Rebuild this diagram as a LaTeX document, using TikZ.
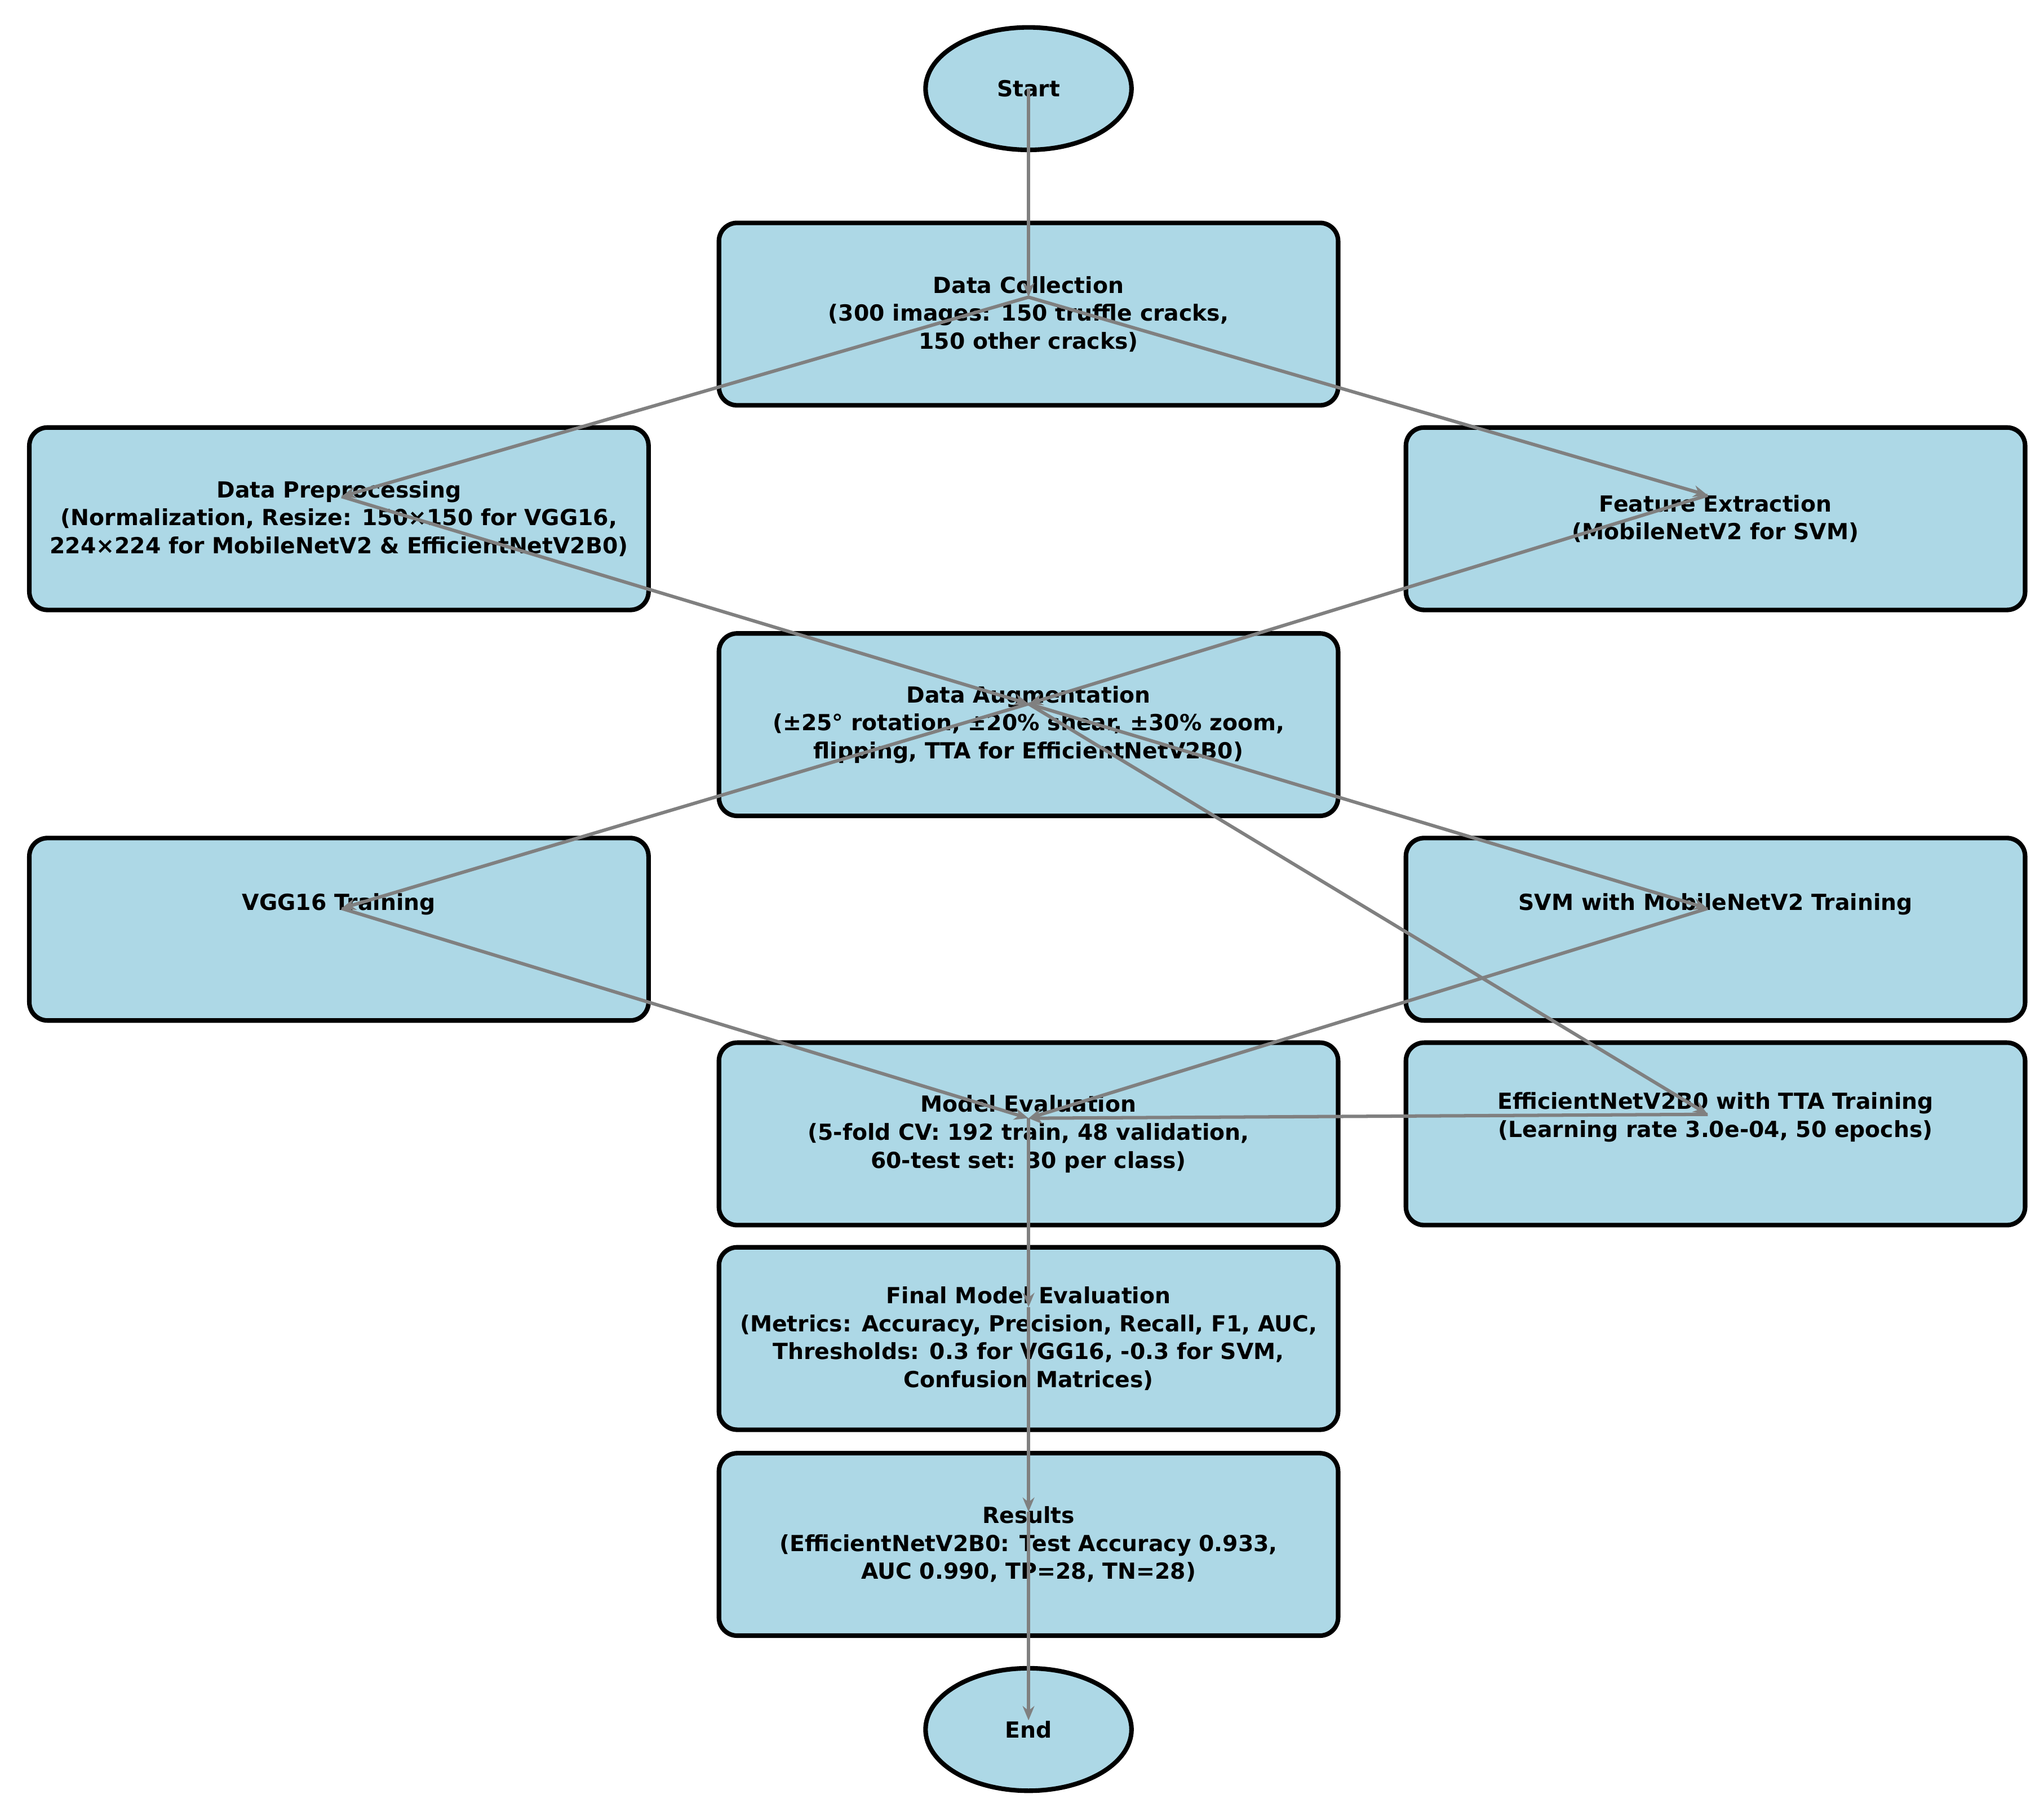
\documentclass[tikz,border=0pt]{standalone}
\usepackage{fontspec}
\setmainfont{DejaVu Sans}
\usetikzlibrary{shapes.geometric,arrows.meta}
\definecolor{boxfill}{RGB}{173,216,230}
\definecolor{arr}{RGB}{128,128,128}
\begin{document}
\begin{tikzpicture}[x=1pt,y=-1pt,
  every node/.style={font=\bfseries\fontsize{17}{21.5}\selectfont,align=center,text=black},
  box/.style={draw=black,line width=3.5pt,fill=boxfill,rounded corners=14pt,minimum width=475pt,minimum height=140pt,inner sep=0pt},
  oval/.style={ellipse,draw=black,line width=3.5pt,fill=boxfill,minimum width=158pt,minimum height=94pt},
  conn/.style={draw=arr,line width=2.6pt,-{Stealth[length=11pt,width=9pt]}}]
\useasboundingbox (0,0) rectangle (1568,1390);
\node[oval] (start) at (789,68) {Start};
\node[box] (dc) at (789,241) {Data Collection\\(300 images: 150 truffle cracks,\\150 other cracks)};
\node[box] (pp) at (260,398) {Data Preprocessing\\(Normalization, Resize: 150×150 for VGG16,\\224×224 for MobileNetV2 \& EfficientNetV2B0)};
\node[box] (fe) at (1316,398) {Feature Extraction\\(MobileNetV2 for SVM)};
\node[box] (da) at (789,556) {Data Augmentation\\(±25° rotation, ±20\% shear, ±30\% zoom,\\flipping, TTA for EfficientNetV2B0)};
\node[box] (vg) at (260,713) {VGG16 Training\\[21pt]~};
\node[box] (sv) at (1316,713) {SVM with MobileNetV2 Training\\[21pt]~};
\node[box] (me) at (789,870) {Model Evaluation\\(5-fold CV: 192 train, 48 validation,\\60-test set: 30 per class)};
\node[box] (ef) at (1316,870) {EfficientNetV2B0 with TTA Training\\(Learning rate 3.0e-04, 50 epochs)\\[8pt]~};
\node[box] (fm) at (789,1027) {Final Model Evaluation\\(Metrics: Accuracy, Precision, Recall, F1, AUC,\\Thresholds: 0.3 for VGG16, -0.3 for SVM,\\Confusion Matrices)};
\node[box] (rs) at (789,1185) {Results\\(EfficientNetV2B0: Test Accuracy 0.933,\\AUC 0.990, TP=28, TN=28)};
\node[oval] (end) at (789,1327) {End};
\coordinate (hs) at (789,68);
\coordinate (hdc) at (789,228);
\coordinate (hpp) at (262,381);
\coordinate (hfe) at (1310,380);
\coordinate (hda) at (789,540);
\coordinate (hvg) at (262,697);
\coordinate (hsv) at (1310,697);
\coordinate (hef) at (1310,855);
\coordinate (hme) at (789,858);
\coordinate (hfm) at (789,1003);
\coordinate (hrs) at (789,1160);
\coordinate (hend) at (789,1320);
\draw[conn] (hs) -- (hdc);
\draw[conn] (hdc) -- (hpp);
\draw[conn] (hdc) -- (hfe);
\draw[conn] (hpp) -- (hda);
\draw[conn] (hfe) -- (hda);
\draw[conn] (hda) -- (hvg);
\draw[conn] (hda) -- (hsv);
\draw[conn] (hda) -- (hef);
\draw[conn] (hvg) -- (hme);
\draw[conn] (hsv) -- (hme);
\draw[conn] (hef) -- (hme);
\draw[conn] (hme) -- (hfm);
\draw[conn] (hfm) -- (hrs);
\draw[conn] (hrs) -- (hend);
\end{tikzpicture}
\end{document}
